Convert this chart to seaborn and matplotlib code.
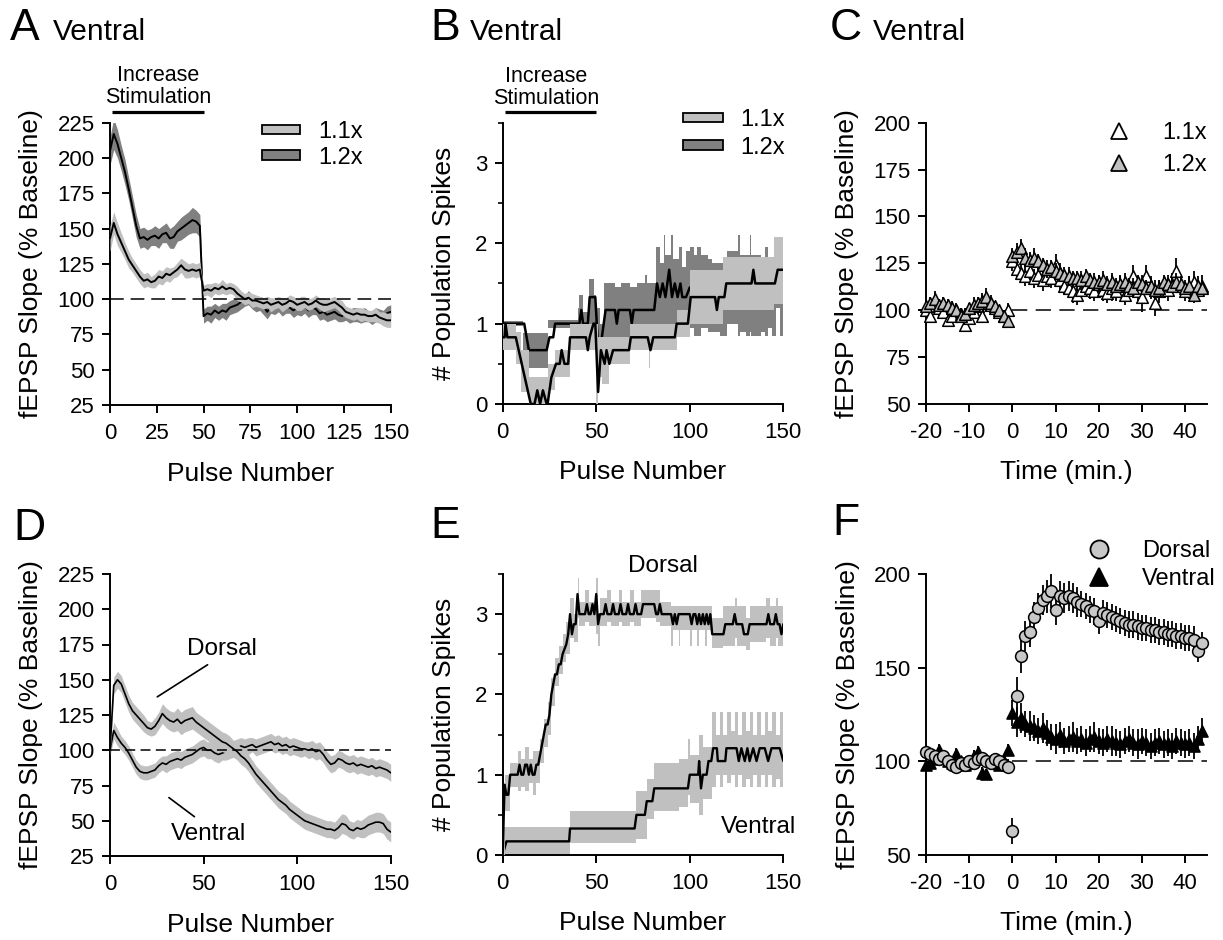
import numpy as np
import matplotlib
matplotlib.use("Agg")
import matplotlib.pyplot as plt
from matplotlib.patches import Patch
from matplotlib.lines import Line2D
import seaborn as sns

# ---------------- data ----------------
# A / D: every 2nd pulse, 0..150
PULSE = np.arange(0, 151, 2)

A11_MEAN = [143, 154, 146, 140, 134, 128, 124, 120, 116, 113, 114, 112, 113, 116, 115, 118, 117, 119, 121, 124, 121, 120, 121, 120, 121,
            106, 107, 106, 108, 107, 109, 107, 108, 107, 104, 102, 100, 101, 99, 99, 98, 97, 98, 96, 97,
            98, 96, 97, 99, 98, 96, 97, 98, 96, 97, 99, 97, 96, 96, 97, 98, 96, 94, 91, 90,
            89, 90, 89, 89, 88, 88, 89, 87, 86, 85, 85]
A11_SEM = [9, 8, 8, 7, 6, 6, 5, 5, 5, 5, 5, 4, 5, 5, 5, 5, 5, 4, 5, 5, 6, 5, 5, 5, 5,
           4, 4, 5, 4, 4, 5, 4, 4, 4, 5, 4, 4, 4, 5, 4, 4, 4, 4, 5, 4,
           4, 5, 4, 4, 4, 4, 5, 4, 4, 4, 4, 4, 5, 4, 4, 4, 4, 5, 4, 4,
           4, 4, 5, 4, 4, 4, 5, 4, 5, 5, 5]
A12_MEAN = [205, 217, 210, 200, 190, 178, 165, 152, 143, 144, 142, 144, 145, 143, 146, 147, 143, 144, 148, 150, 152, 154, 156, 155, 152,
            88, 90, 89, 92, 90, 92, 91, 94, 95, 96, 98, 99, 101, 98, 96, 97, 95, 91, 95, 94,
            96, 93, 95, 94, 92, 94, 93, 95, 92, 94, 93, 90, 91, 89, 90, 91, 89, 88, 90, 88,
            89, 89, 88, 89, 88, 87, 89, 88, 87, 90, 91]
A12_SEM = [10, 11, 10, 9, 9, 8, 8, 8, 7, 7, 7, 6, 7, 7, 6, 7, 7, 8, 7, 8, 8, 8, 9, 8, 8,
           5, 5, 6, 5, 5, 5, 6, 5, 5, 5, 5, 4, 5, 5, 5, 5, 6, 5, 5, 5,
           5, 5, 5, 4, 5, 5, 5, 5, 5, 5, 4, 5, 5, 5, 5, 5, 5, 4, 5, 5,
           5, 5, 5, 5, 4, 5, 5, 5, 5, 5, 5]

D_DOR_MEAN = [100, 146, 150, 147, 140, 133, 128, 125, 122, 119, 116, 115, 117, 121, 126, 123, 121, 120, 122, 119, 121, 122, 123, 120, 118,
              116, 114, 112, 110, 108, 106, 105, 103, 101, 99, 96, 94, 91, 87, 83, 80, 77, 74, 71, 68,
              65, 63, 61, 58, 56, 54, 52, 50, 49, 48, 47, 46, 45, 44, 44, 43, 45, 48, 47, 44,
              43, 45, 44, 45, 47, 48, 49, 49, 48, 44, 42]
D_DOR_SEM = [4, 6, 6, 6, 6, 6, 6, 6, 6, 6, 5, 5, 6, 6, 7, 7, 7, 7, 8, 8, 8, 8, 8, 7, 7,
             7, 7, 7, 7, 7, 7, 7, 7, 6, 6, 6, 6, 6, 6, 6, 6, 6, 6, 6, 6,
             6, 6, 6, 6, 6, 6, 6, 6, 6, 6, 6, 6, 6, 6, 6, 6, 7, 7, 7, 6,
             6, 6, 6, 7, 7, 7, 7, 7, 7, 7, 7]
D_VEN_MEAN = [100, 114, 109, 105, 102, 98, 93, 88, 85, 84, 84, 85, 86, 89, 91, 90, 92, 93, 94, 93, 95, 96, 97, 99, 101,
              102, 100, 100, 98, 97, 98, 99, 100, 101, 102, 103, 102, 103, 104, 102, 103, 104, 105, 106, 104,
              105, 103, 104, 102, 103, 102, 101, 101, 100, 101, 99, 100, 97, 93, 90, 91, 94, 93, 91, 90,
              91, 89, 90, 89, 88, 89, 87, 88, 87, 86, 84]
D_VEN_SEM = [4, 6, 6, 5, 5, 5, 5, 5, 5, 5, 5, 5, 5, 5, 5, 6, 6, 6, 6, 6, 6, 6, 6, 6, 6,
             6, 6, 6, 6, 6, 5, 6, 6, 6, 6, 6, 6, 6, 5, 6, 6, 6, 6, 6, 6,
             6, 6, 6, 6, 6, 6, 6, 5, 6, 6, 6, 6, 6, 6, 6, 6, 6, 6, 6, 6,
             6, 6, 6, 6, 6, 6, 6, 6, 6, 6, 6]

# B: mean population spikes (vertices) and SEM band (steps)
B11_X = [0, 1, 1.5, 2.5, 7, 15, 17, 18.5, 20, 21.5, 23.5, 24, 26, 28.5, 30.5, 31.5, 33, 35, 36, 44.5,
         45.5, 46.5, 48.5, 49.5, 51, 52.5, 54.5, 55.5, 57, 59, 67.5, 68.5, 77.5, 79, 80.5, 92, 93, 99, 100.5, 113.5,
         114.5, 115.5, 118.5, 119.5, 133, 134, 135, 145.5, 147, 150]
B11_Y = [0.83, 0.83, 1.0, 0.83, 0.83, 0.0, 0.0, 0.17, 0.0, 0.17, 0.0, 0.0, 0.33, 0.5, 0.5, 0.67, 0.5, 0.5, 0.83, 0.83,
         0.67, 0.83, 1.0, 1.0, 0.15, 0.67, 0.5, 0.67, 0.5, 0.67, 0.67, 0.83, 0.83, 0.67, 0.83, 0.83, 1.0, 1.0, 1.33, 1.33,
         1.17, 1.33, 1.33, 1.5, 1.5, 1.67, 1.5, 1.5, 1.67, 1.67]
B11_BX = [0, 7, 10, 14, 24, 28, 36, 50, 51, 53, 57, 68, 78, 79, 93, 100, 118, 145, 150]
B11_LO = [0.67, 0.5, 0.15, 0.0, 0.17, 0.33, 0.67, 0.0, 0.33, 0.25, 0.5, 0.67, 0.45, 0.67, 0.83, 1.0, 1.17, 1.25, 1.25]
B11_HI = [1.0, 0.9, 0.67, 0.33, 0.5, 0.67, 1.0, 1.0, 0.83, 0.83, 0.83, 1.0, 1.0, 1.0, 1.17, 1.67, 1.83, 2.08, 2.08]

B12_X = [0, 11.5, 14, 23.5, 25, 27, 28, 41, 42, 43, 45.5, 46.5, 49.5, 51.5, 53, 55, 60, 61, 62, 68,
         69, 70, 81, 82.5, 84, 85.5, 87, 89, 90.5, 92, 93.5, 95, 96, 98, 100, 150]
B12_Y = [1.0, 1.0, 0.67, 0.67, 0.83, 0.83, 1.0, 1.0, 1.17, 1.0, 1.0, 1.33, 1.33, 0.5, 0.83, 1.17, 1.17, 1.0, 1.17, 1.17,
         1.0, 1.17, 1.17, 1.5, 1.33, 1.5, 1.33, 1.67, 1.33, 1.5, 1.33, 1.5, 1.33, 1.33, 1.45, 1.45]
B12_BX = [0, 11, 24, 40, 41, 43, 46, 49, 50, 52, 54, 60, 63, 68, 72, 76, 77, 82, 84, 86, 87, 90, 91, 94, 96,
          98, 100, 102, 104, 106, 110, 112, 116, 120, 126, 127, 130, 132, 133, 134, 138, 140, 142, 144, 146, 148, 150]
B12_LO = [0.97, 0.45, 0.95, 0.8, 0.8, 0.8, 0.9, 0.9, 0.55, 0.6, 0.83, 0.83, 0.83, 0.8, 0.83, 0.75, 0.83, 0.95, 0.95, 1.0,
          1.0, 1.0, 1.0, 1.05, 1.0, 0.85, 0.95, 0.85, 0.85, 0.95, 0.9, 0.9, 0.85, 1.0, 0.85, 0.9, 0.85, 0.9, 0.85, 0.85,
          0.9, 0.85, 0.95, 0.85, 1.2, 0.85, 0.85]
B12_HI = [1.03, 0.88, 1.05, 1.2, 1.35, 1.15, 1.55, 1.35, 1.2, 1.0, 1.5, 1.45, 1.5, 1.45, 1.5, 1.6, 1.5, 1.95, 1.75, 2.1,
          1.85, 2.1, 1.8, 1.95, 1.7, 1.9, 1.95, 1.85, 1.95, 1.85, 1.8, 1.75, 1.75, 1.9, 2.1, 1.85, 1.85, 2.1, 1.85, 1.85,
          1.8, 1.95, 1.8, 1.8, 1.8, 1.8, 1.8]

# E: dorsal / ventral population spikes
E_DOR_X = [0, 1, 2, 3, 4, 8, 9, 10, 11, 12, 13, 14, 15, 16, 17, 18, 19, 20, 21, 22,
           23, 24, 25, 26, 27, 28, 29, 30, 31, 32, 34, 35, 36, 37, 38, 39, 40, 41, 44, 45,
           46, 47, 48, 49, 50, 51, 52, 54, 55, 56, 58, 59, 60, 62, 63, 64, 66, 67, 68, 70,
           71, 72, 74, 75, 81, 82, 83, 84, 85, 90, 91, 92, 93, 94, 100, 101, 102, 103, 104, 105,
           106, 107, 108, 109, 110, 111, 112, 118, 119, 123, 124, 125, 128, 129, 131, 132, 141, 142, 143, 145,
           146, 147, 148, 149, 150]
E_DOR_Y = [0, 0.875, 0.75, 0.75, 1.0, 1.0, 1.125, 1.0, 1.0, 1.125, 1.125, 1.0, 1.125, 1.0, 1.0, 1.125, 1.125, 1.25, 1.375, 1.5,
           1.625, 1.625, 1.75, 2.0, 2.125, 2.25, 2.25, 2.375, 2.375, 2.5, 2.625, 2.75, 3.0, 2.75, 2.875, 2.875, 3.25, 3.0, 3.0, 3.125,
           3.0, 3.0, 3.125, 3.0, 3.25, 2.875, 3.0, 3.0, 3.125, 3.0, 3.0, 3.125, 3.0, 3.0, 3.125, 3.0, 3.0, 3.125, 3.0, 3.0,
           3.125, 3.0, 3.0, 3.125, 3.125, 3.0, 3.0, 3.125, 3.0, 3.0, 2.875, 3.0, 2.875, 3.0, 3.0, 2.875, 3.0, 3.0, 2.875, 3.0,
           2.875, 3.0, 2.875, 3.0, 2.875, 3.0, 2.75, 2.75, 2.875, 2.875, 3.0, 2.875, 2.875, 2.75, 2.75, 2.875, 2.875, 3.0, 2.875, 2.875,
           3.0, 2.875, 2.875, 2.75, 2.875]
E_DOR_BX = [0, 1, 4, 8, 10, 12, 14, 16, 18, 20, 22, 24, 26, 28, 30, 32, 34, 36, 38, 40,
            41, 44, 46, 50, 51, 52, 56, 58, 62, 64, 68, 70, 74, 82, 84, 90, 91, 94, 95, 100,
            101, 104, 105, 108, 109, 112, 118, 124, 125, 130, 132, 141, 143, 146, 147, 150]
E_DOR_LO = [0.0, 0.55, 0.85, 0.8, 0.85, 0.8, 0.9, 0.75, 0.9, 1.15, 1.35, 1.5, 1.85, 2.1, 2.25, 2.4, 2.5, 2.7, 2.65, 2.95,
            2.85, 2.9, 2.85, 2.75, 2.6, 2.85, 2.9, 2.85, 2.9, 2.85, 2.9, 2.85, 2.95, 2.9, 2.85, 2.6, 2.8, 2.6, 2.8, 2.6,
            2.8, 2.6, 2.8, 2.6, 2.8, 2.58, 2.6, 2.7, 2.6, 2.55, 2.65, 2.7, 2.6, 2.7, 2.6, 2.6]
E_DOR_HI = [0.3, 1.0, 1.15, 1.3, 1.2, 1.35, 1.2, 1.3, 1.3, 1.45, 1.7, 1.9, 2.2, 2.45, 2.6, 2.75, 2.9, 3.2, 3.0, 3.45,
            3.15, 3.3, 3.15, 3.45, 3.0, 3.2, 3.3, 3.15, 3.3, 3.15, 3.3, 3.15, 3.3, 3.3, 3.15, 3.1, 3.1, 3.1, 3.1, 3.1,
            3.1, 3.1, 3.1, 3.1, 3.1, 2.95, 3.1, 3.2, 3.1, 2.95, 3.1, 3.2, 3.1, 3.2, 3.1, 3.1]

E_VEN_X = [0, 2, 35.5, 36, 70.5, 71.5, 76, 77, 80, 81, 99, 100, 104.5, 105, 106, 107, 109, 110, 111.5, 112.5,
           114.5, 115, 119, 119.6, 125, 126.2, 127.6, 129.4, 130.8, 132, 133.9, 135.7, 137.4, 140.1, 141.9, 143.7, 148.1, 150]
E_VEN_Y = [0, 0.17, 0.17, 0.33, 0.33, 0.5, 0.5, 0.67, 0.67, 0.83, 0.83, 1.0, 1.0, 1.17, 0.83, 1.0, 1.0, 1.17, 1.17, 1.33,
           1.33, 1.17, 1.17, 1.33, 1.33, 1.17, 1.33, 1.17, 1.33, 1.17, 1.33, 1.17, 1.33, 1.33, 1.17, 1.33, 1.33, 1.17]
E_VEN_BX = [0, 36, 71, 77, 81, 94, 99, 100, 105, 107, 112, 114, 116, 118, 120, 122, 124, 126, 128, 130,
            132, 134, 136, 138, 140, 142, 144, 146, 148, 150]
E_VEN_LO = [-0.1, 0.15, 0.2, 0.45, 0.55, 0.6, 0.75, 0.65, 0.5, 0.7, 0.85, 1.0, 0.85, 1.0, 0.9, 1.0, 0.85, 1.0, 0.85, 0.95,
            0.85, 1.0, 0.85, 1.0, 0.85, 1.0, 0.85, 0.95, 0.85, 0.85]
E_VEN_HI = [0.35, 0.55, 0.8, 0.95, 1.15, 1.2, 1.45, 1.25, 1.5, 1.35, 1.78, 1.5, 1.78, 1.5, 1.78, 1.55, 1.78, 1.5, 1.78, 1.55,
            1.78, 1.5, 1.78, 1.5, 1.78, 1.55, 1.78, 1.5, 1.78, 1.78]

# C / F: one point per minute, -20..44
TIME = np.arange(-20, 45)

C11_MEAN = [100, 97, 102, 101, 99, 95, 97, 100, 98, 92, 96, 99, 102, 97, 104, 103, 101, 99, 97, 100,
            126, 122, 120, 118, 121, 117, 119, 116, 118, 117, 124, 116, 113, 112, 110, 108, 111, 113, 112, 110,
            114, 111, 109, 112, 110, 113, 108, 111, 118, 110, 107, 118, 112, 104, 110, 112, 111, 114, 121, 113,
            110, 112, 115, 111, 113]
C11_SEM = [3, 3, 3, 4, 3, 3, 3, 4, 3, 3, 3, 3, 4, 3, 5, 4, 3, 3, 3, 4,
           5, 6, 5, 5, 6, 5, 5, 6, 5, 5, 6, 5, 5, 5, 6, 5, 5, 5, 6, 5,
           5, 6, 5, 7, 5, 6, 5, 6, 6, 5, 8, 6, 6, 7, 6, 5, 6, 6, 7, 6,
           5, 6, 6, 5, 6]
C12_MEAN = [102, 104, 106, 103, 104, 103, 101, 100, 97, 98, 101, 103, 104, 105, 107, 104, 102, 100, 97, 94,
            129, 131, 133, 128, 127, 128, 126, 124, 122, 123, 121, 120, 119, 118, 117, 117, 116, 118, 116, 115,
            115, 116, 114, 115, 113, 114, 115, 113, 112, 115, 114, 112, 113, 111, 112, 115, 114, 113, 115, 114,
            112, 113, 108, 113, 112]
C12_SEM = [3, 3, 4, 3, 3, 3, 4, 3, 3, 3, 3, 4, 3, 4, 5, 4, 3, 3, 3, 3,
           4, 5, 5, 5, 4, 5, 4, 4, 5, 4, 4, 5, 4, 5, 4, 4, 5, 4, 4, 5,
           4, 5, 4, 5, 4, 4, 5, 4, 5, 4, 5, 4, 4, 5, 4, 4, 5, 4, 5, 4,
           4, 5, 4, 5, 4]

F_DOR_MEAN = [105, 104, 103, 101, 103, 100, 98, 97, 99, 98, 100, 99, 101, 102, 100, 99, 101, 100, 98, 97,
              63, 135, 156, 167, 169, 177, 182, 186, 188, 191, 181, 188, 187, 188, 187, 185, 184, 183, 181, 180,
              175, 179, 178, 177, 176, 175, 174, 173, 173, 172, 171, 171, 170, 170, 169, 169, 168, 168, 167, 167,
              166, 166, 165, 159, 163]
F_DOR_SEM = [3, 3, 3, 3, 3, 3, 3, 3, 3, 3, 3, 3, 3, 3, 3, 3, 3, 3, 3, 4,
             7, 10, 9, 8, 8, 8, 8, 8, 9, 9, 8, 8, 8, 8, 8, 8, 7, 7, 7, 7,
             7, 7, 7, 7, 7, 7, 7, 7, 7, 7, 7, 7, 7, 7, 7, 7, 7, 7, 7, 7,
             7, 7, 7, 6, 6]
F_VEN_MEAN = [98, 99, 101, 106, 103, 100, 99, 104, 100, 98, 99, 103, 105, 94, 93, 100, 99, 98, 100, 106,
              126, 121, 123, 120, 119, 118, 116, 118, 115, 113, 112, 114, 111, 112, 113, 111, 112, 110, 112, 113,
              111, 110, 112, 111, 110, 109, 111, 112, 110, 109, 111, 110, 108, 110, 111, 109, 110, 108, 111, 110,
              109, 110, 108, 112, 116]
F_VEN_SEM = [3, 3, 3, 3, 3, 3, 3, 3, 3, 3, 3, 3, 3, 3, 3, 3, 3, 3, 3, 3,
             7, 8, 8, 7, 8, 7, 7, 8, 7, 7, 8, 7, 7, 7, 8, 7, 7, 7, 7, 8,
             7, 7, 7, 8, 7, 7, 7, 7, 7, 8, 7, 7, 7, 7, 7, 7, 7, 7, 7, 7,
             7, 7, 7, 7, 7]

STIM_PULSES = [1, 50]
BASELINE = 100

# ---------------- style ----------------
sns.set_theme(style="ticks")
plt.rcParams["font.family"] = ["Liberation Sans", "DejaVu Sans"]
plt.rcParams["axes.unicode_minus"] = False
for k in ("text.color", "axes.labelcolor", "xtick.color", "ytick.color", "axes.edgecolor"):
    plt.rcParams[k] = "black"

LIGHT = "#c0c0c0"
DARK = "#808080"
W, H = 1223, 940
fig = plt.figure(figsize=(W / 100, H / 100), dpi=100)


def px_axes(left, right, top, bottom):
    return fig.add_axes([left / W, 1 - bottom / H, (right - left) / W, (bottom - top) / H])


def style(ax, xlim, ylim, xticks, yticks, xlabel, ylabel, ylab_x, minor_y=None):
    ax.set_xlim(*xlim)
    ax.set_ylim(*ylim)
    ax.set_xticks(xticks)
    ax.set_yticks(yticks)
    if minor_y is not None:
        ax.set_yticks(minor_y, minor=True)
    sns.despine(ax=ax)
    for s in ("left", "bottom"):
        ax.spines[s].set_linewidth(1.4)
    ax.tick_params(which="major", direction="out", length=6, width=1.4, labelsize=16)
    ax.tick_params(axis="y", which="major", pad=5)
    ax.tick_params(axis="x", which="major", pad=7)
    ax.tick_params(which="minor", direction="out", length=3.5, width=1.2)
    ax.set_xlabel(xlabel, fontsize=19, va="center")
    ax.set_ylabel(ylabel, fontsize=19, va="center")
    ax.xaxis.set_label_coords(0.5, -0.243)
    ax.yaxis.set_label_coords(ylab_x, 0.5)


def band_legend(ax, x, top, hl, pad, ls):
    handles = [Patch(facecolor=LIGHT, edgecolor="black", linewidth=1.3),
               Patch(facecolor=DARK, edgecolor="black", linewidth=1.3)]
    ax.legend(handles, ["1.1x", "1.2x"], loc="upper left", bbox_to_anchor=(x / W, 1 - top / H),
              bbox_transform=fig.transFigure, frameon=False, fontsize=17, borderpad=0, borderaxespad=0,
              handlelength=hl, handleheight=0.26, handletextpad=pad, labelspacing=ls)


def marker_legend(ax, handles, labels, x, top, ls):
    ax.legend(handles, labels, loc="upper left", bbox_to_anchor=(x / W, 1 - top / H),
              bbox_transform=fig.transFigure, frameon=False, fontsize=17, borderpad=0, borderaxespad=0,
              handlelength=1.2, handletextpad=1.22, labelspacing=ls)


def stim_marker(ax, ybar, ytext, xtext):
    ax.plot(STIM_PULSES, [ybar, ybar], color="black", lw=2.3, clip_on=False, solid_capstyle="butt")
    ax.text(xtext, ytext, "Increase\nStimulation", ha="center", va="baseline", fontsize=15.5,
            linespacing=1.05, clip_on=False)


def dashed(ax, x0, x1, dash):
    ax.hlines(BASELINE, x0, x1, colors="black", lw=1.1, linestyles=[(0, dash)], zorder=6)


def mean_line(ax, x, y, lw, z):
    sns.lineplot(x=np.asarray(x, float), y=np.asarray(y, float), ax=ax, color="black", lw=lw,
                 estimator=None, sort=False, zorder=z, legend=False)


def points(ax, y, err, marker, face, size, z):
    ax.errorbar(TIME, y, yerr=err, fmt="none", ecolor="black", elinewidth=1.3, capsize=0, zorder=z, clip_on=False)
    sns.scatterplot(x=TIME, y=y, ax=ax, marker=marker, color=face, edgecolor="black", linewidth=1.1,
                    s=size, zorder=z + 0.5, clip_on=False, legend=False)


# ---------------- A ----------------
axA = px_axes(110, 390.7, 122.7, 405)
a12, s12 = np.array(A12_MEAN), np.array(A12_SEM)
a11, s11 = np.array(A11_MEAN), np.array(A11_SEM)
axA.fill_between(PULSE, a12 - s12, a12 + s12, color=DARK, lw=0, zorder=1)
mean_line(axA, PULSE, a12, 1.4, 2)
axA.fill_between(PULSE, a11 - s11, a11 + s11, color=LIGHT, lw=0, zorder=3)
mean_line(axA, PULSE, a11, 1.4, 4)
dashed(axA, 0, 150, (9, 4.5))
style(axA, (0, 150), (25, 225), range(0, 151, 25), range(25, 226, 25),
      "Pulse Number", "fEPSP Slope (% Baseline)", -0.2825)
stim_marker(axA, 232.8, 239, 25.7)
band_legend(axA, 262, 121, 1.61, 0.76, 0.16)

# ---------------- B ----------------
axB = px_axes(502.7, 783.3, 122.7, 404)
axB.fill_between(B12_BX, B12_LO, B12_HI, step="post", color=DARK, lw=0, zorder=1)
mean_line(axB, B12_X, B12_Y, 1.8, 2)
axB.fill_between(B11_BX, B11_LO, B11_HI, step="post", color=LIGHT, lw=0, zorder=3)
mean_line(axB, B11_X, B11_Y, 1.8, 4)
style(axB, (0, 150), (0, 3.5), [0, 50, 100, 150], [0, 1, 2, 3],
      "Pulse Number", "# Population Spikes", -0.209, minor_y=[0.5, 1.5, 2.5, 3.5])
stim_marker(axB, 3.63, 3.73, 23.3)
band_legend(axB, 683, 109, 1.69, 0.72, 0.24)

# ---------------- C ----------------
axC = px_axes(926, 1206.7, 122.7, 404)
dashed(axC, 0, 45, (10, 5.5))
points(axC, C11_MEAN, C11_SEM, "^", "white", 70, 3)
points(axC, C12_MEAN, C12_SEM, "^", LIGHT, 70, 4)
style(axC, (-20, 45), (50, 200), range(-20, 41, 10), range(50, 201, 25),
      "Time (min.)", "fEPSP Slope (% Baseline)", -0.2825)
marker_legend(axC,
              [Line2D([], [], ls="none", marker="^", ms=12, mfc="white", mec="black", mew=1.3),
               Line2D([], [], ls="none", marker="^", ms=12, mfc=LIGHT, mec="black", mew=1.3)],
              ["1.1x", "1.2x"], 1104.8, 121.8, 0.45)

# ---------------- D ----------------
axD = px_axes(110, 390.7, 574, 856)
dv, dvs = np.array(D_VEN_MEAN), np.array(D_VEN_SEM)
dd, dds = np.array(D_DOR_MEAN), np.array(D_DOR_SEM)
axD.fill_between(PULSE, dv - dvs, dv + dvs, color=LIGHT, lw=0, zorder=1)
mean_line(axD, PULSE, dv, 1.2, 2)
axD.fill_between(PULSE, dd - dds, dd + dds, color=LIGHT, lw=0, zorder=3)
mean_line(axD, PULSE, dd, 1.2, 4)
dashed(axD, 0, 150, (6.5, 3.5))
style(axD, (0, 150), (25, 225), [0, 50, 100, 150], range(25, 226, 25),
      "Pulse Number", "fEPSP Slope (% Baseline)", -0.2822)
axD.text(59.9, 167.6, "Dorsal", ha="center", va="baseline", fontsize=17.5)
axD.annotate("", xy=(24, 136.8), xytext=(53.4, 161.7), arrowprops=dict(arrowstyle="-", lw=1.2, color="black"))
axD.text(52.4, 36.3, "Ventral", ha="center", va="baseline", fontsize=17.5)
axD.annotate("", xy=(46.3, 51.7), xytext=(30.3, 67.6), arrowprops=dict(arrowstyle="-", lw=1.2, color="black"))

# ---------------- E ----------------
axE = px_axes(502.7, 783.3, 574, 855)
axE.fill_between(E_VEN_BX, E_VEN_LO, E_VEN_HI, step="post", color=LIGHT, lw=0, zorder=1)
mean_line(axE, E_VEN_X, E_VEN_Y, 1.7, 2)
axE.fill_between(E_DOR_BX, E_DOR_LO, E_DOR_HI, step="post", color=LIGHT, lw=0, zorder=3)
mean_line(axE, E_DOR_X, E_DOR_Y, 1.7, 4)
style(axE, (0, 150), (0, 3.5), [0, 50, 100, 150], [0, 1, 2, 3],
      "Pulse Number", "# Population Spikes", -0.209, minor_y=[0.5, 1.5, 2.5, 3.5])
axE.text(85.7, 3.53, "Dorsal", ha="center", va="baseline", fontsize=17.5, clip_on=False)
axE.text(136.5, 0.27, "Ventral", ha="center", va="baseline", fontsize=17.5)

# ---------------- F ----------------
axF = px_axes(926, 1206.7, 574, 855)
dashed(axF, 0, 45, (10, 5.5))
points(axF, F_VEN_MEAN, F_VEN_SEM, "^", "black", 64, 3)
points(axF, F_DOR_MEAN, F_DOR_SEM, "o", "#c8c8c8", 72, 4)
style(axF, (-20, 45), (50, 200), range(-20, 41, 10), [50, 100, 150, 200],
      "Time (min.)", "fEPSP Slope (% Baseline)", -0.278)
marker_legend(axF,
              [Line2D([], [], ls="none", marker="o", ms=13, mfc="#c8c8c8", mec="black", mew=1.3),
               Line2D([], [], ls="none", marker="^", ms=13, mfc="black", mec="black", mew=1.3)],
              ["Dorsal", "Ventral"], 1084.8, 539.8, 0.28)

# ---------------- panel titles ----------------
for letter, lx, base, title, tx in [("A", 10, 40, "Ventral", 53), ("B", 430, 40, "Ventral", 470),
                                    ("C", 830, 40, "Ventral", 873), ("D", 13, 540, None, 0),
                                    ("E", 430, 538, None, 0), ("F", 832, 535, None, 0)]:
    fig.text(lx / W, 1 - base / H, letter, fontsize=32, va="baseline")
    if title:
        fig.text(tx / W, 1 - base / H, title, fontsize=21.5, va="baseline")

fig.savefig("out.png", dpi=100)
